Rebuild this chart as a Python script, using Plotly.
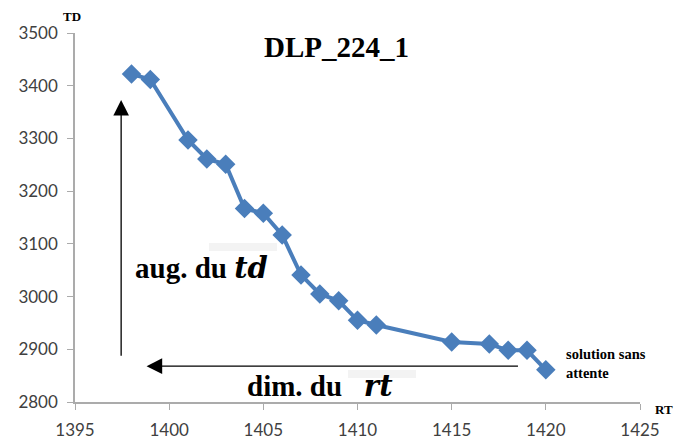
import plotly.graph_objects as go

rt = [1398, 1399, 1401, 1402, 1403, 1404, 1405, 1406, 1407, 1408, 1409, 1410, 1411, 1415, 1417, 1418, 1419, 1420]
td = [3422, 3412, 3297, 3261, 3251, 3167, 3158, 3117, 3041, 3005, 2992, 2955, 2946, 2914, 2910, 2898, 2898, 2861]

x_ticks = [1395, 1400, 1405, 1410, 1415, 1420, 1425]
y_ticks = [2800, 2900, 3000, 3100, 3200, 3300, 3400, 3500]

blue = "#4A7EBB"
serif = "Liberation Serif"
mathf = "DejaVu Serif"
tick_font = dict(family="Lato, Liberation Sans", size=17, color="#404040")

# page body has an 8px default margin; figure sized to fit the window
OFF = 8
W, H = 675, 431
L, R, T, B = 67, 43, 25, 37
PW, PH = W - L - R, H - T - B


def px(xp, yp):
    """page pixel -> paper coords"""
    return (xp - OFF - L) / PW, 1 - (yp - OFF - T) / PH


fig = go.Figure()
fig.add_trace(go.Scatter(
    x=rt, y=td, mode="lines+markers",
    line=dict(color=blue, width=4),
    marker=dict(symbol="diamond", size=15, color=blue),
    showlegend=False, cliponaxis=False,
))

axis_common = dict(showgrid=False, zeroline=False, showline=True, linecolor="#ABABAB",
                   linewidth=1.5, ticks="outside", ticklen=6, tickcolor="#ABABAB",
                   tickfont=tick_font, automargin=False, ticklabelstandoff=6)
fig.update_layout(
    width=W, height=H,
    margin=dict(l=L, r=R, t=T, b=B),
    paper_bgcolor="white", plot_bgcolor="white",
    xaxis=dict(range=[1395, 1425], tickvals=x_ticks, **axis_common),
    yaxis=dict(range=[2800, 3500], tickvals=y_ticks, **axis_common),
)

# faint background patches
for (x0, y0, x1, y1) in [(209, 243, 277, 251), (348, 370, 416, 378)]:
    a0, b0 = px(x0, y0)
    a1, b1 = px(x1, y1)
    fig.add_shape(type="rect", xref="paper", yref="paper", x0=a0, x1=a1, y0=b1, y1=b0,
                  fillcolor="#F3F3F3", line=dict(width=0), layer="below")

# arrows
fig.add_annotation(x=1397.45, y=3373, ax=1397.45, ay=2885, xref="x", yref="y",
                   axref="x", ayref="y", showarrow=True, arrowhead=2, arrowsize=2.4,
                   arrowwidth=1.3, arrowcolor="black", text="")
fig.add_annotation(x=1398.8, y=2868, ax=1418.6, ay=2868, xref="x", yref="y",
                   axref="x", ayref="y", showarrow=True, arrowhead=2, arrowsize=2.4,
                   arrowwidth=1.3, arrowcolor="black", text="")


def label(xp, yp, text, size, xanchor="center", align="center"):
    xx, yy = px(xp, yp)
    fig.add_annotation(x=xx, y=yy, xref="paper", yref="paper", showarrow=False,
                       text=text, xanchor=xanchor, yanchor="middle", align=align,
                       font=dict(family=serif, size=size, color="black"))


label(133, 268, "<b>aug. du </b><b><i><span style='font-family:" + mathf + "'>td</span></i></b>",
      29, xanchor="left")
label(245, 386, "<b>dim. du </b>&nbsp;&nbsp;<b><i><span style='font-family:" + mathf + "'>rt</span></i></b>",
      29, xanchor="left")
label(564, 363, "<b>solution sans<br>attente</b>", 14.5, xanchor="left", align="left")
label(336, 47, "<b>DLP_224_1</b>", 29)
label(72, 17, "<b>TD</b>", 13)
label(675, 410, "<b>RT</b>", 13, xanchor="right")

fig.write_html("out.html")
